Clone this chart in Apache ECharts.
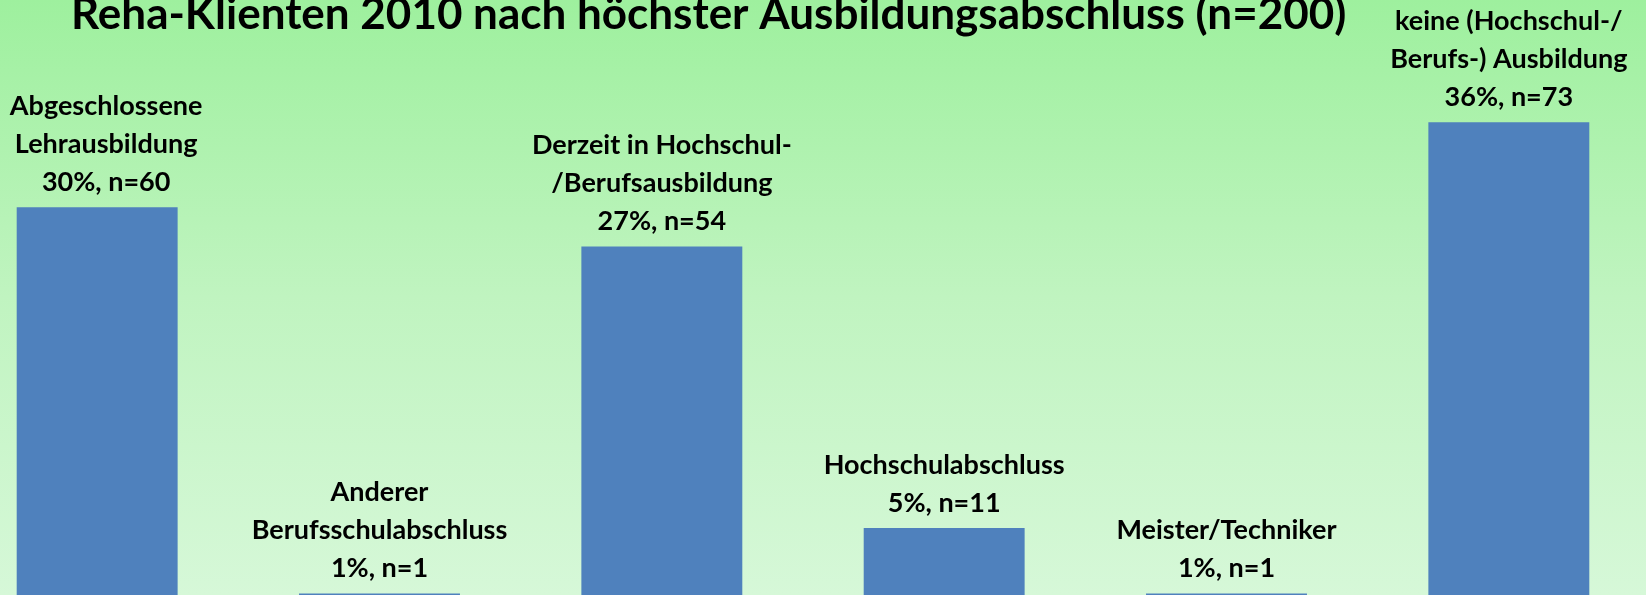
<!DOCTYPE html>
<html lang="de">
<head>
    <meta charset="UTF-8">
    <title>Reha-Klienten 2010</title>
    <script type="text/javascript" src="https://cdn.jsdelivr.net/npm/echarts@6/dist/echarts.min.js"></script>
    <style>
        html, body {
            margin: 0;
            padding: 0;
            width: 1646px;
            height: 595px;
            overflow: hidden;
            background: linear-gradient(to bottom, #9ef09e 0%, #c0f4c0 50%, #d6f8d8 100%);
        }
        #main {
            /* etwas breiter/höher als das Fenster, Ränder werden abgeschnitten */
            position: absolute;
            left: -44px;
            top: 0;
            width: 1694px;
            height: 600px;
        }
    </style>
</head>
<body>
<div id="main"></div>
<script>
    // Kategorien (Zeilenumbrüche wie im Original)
    const categories = [
        'Abgeschlossene\nLehrausbildung',
        'Anderer\nBerufsschulabschluss',
        'Derzeit in Hochschul-\n/Berufsausbildung',
        'Hochschulabschluss',
        'Meister/Techniker',
        'keine (Hochschul-/\nBerufs-) Ausbildung'
    ];
    const counts = [60, 1, 54, 11, 1, 73];     // n
    const percents = [30, 1, 27, 5, 1, 36];    // Prozent

    // erstes Label etwas nach rechts, damit es nicht am Rand klebt
    const barData = counts.map(function (v, i) {
        return i === 0 ? { value: v, label: { offset: [9, 0] } } : v;
    });

    const chart = echarts.init(document.getElementById('main'));
    const option = {
        backgroundColor: 'transparent',
        title: {
            text: 'Reha-Klienten 2010 nach höchster Ausbildungsabschluss (n=200)',
            left: 110,
            top: -12,
            textStyle: {
                fontFamily: 'Lato',
                fontWeight: 'bold',
                fontSize: 44,
                color: '#000'
            }
        },
        grid: {
            left: 0,
            right: 0,
            top: 11,
            bottom: 0,
            containLabel: false
        },
        xAxis: {
            type: 'category',
            data: categories,
            show: false
        },
        yAxis: {
            type: 'value',
            min: 0,
            max: 90,
            show: false
        },
        series: [{
            type: 'bar',
            data: barData,
            barWidth: '57%',
            itemStyle: { color: '#4f81bd' },
            label: {
                show: true,
                position: 'top',
                distance: 6,
                fontFamily: 'Lato',
                fontWeight: 'bold',
                fontSize: 27,
                lineHeight: 38,
                color: '#000',
                align: 'center',
                formatter: function (p) {
                    return categories[p.dataIndex] + '\n' + percents[p.dataIndex] + '%, n=' + counts[p.dataIndex];
                }
            }
        }]
    };
    chart.setOption(option);
</script>
</body>
</html>
